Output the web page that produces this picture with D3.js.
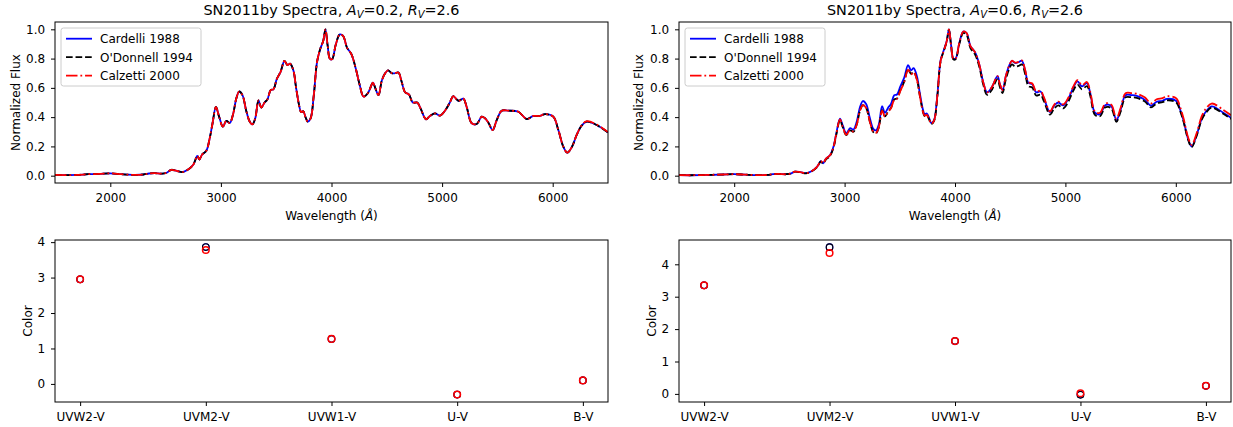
<!DOCTYPE html>
<html>
<head>
<meta charset="utf-8">
<script src="https://cdn.jsdelivr.net/npm/d3@7"></script>
<style>
  html, body { margin: 0; padding: 0; background: #fff; }
  svg { display: block; font-family: "DejaVu Sans", sans-serif; }
</style>
</head>
<body>
<svg id="chart" width="1233" height="427"></svg>
<script>
// ---------------- DATA ----------------
const seriesNames = ["Cardelli 1988", "O'Donnell 1994", "Calzetti 2000"];
const colorBands = ["UVW2-V", "UVM2-V", "UVW1-V", "U-V", "B-V"];
const specTicks = [2000, 3000, 4000, 5000, 6000];
const colorTicks = [0, 1, 2, 3, 4];
const fluxTicks = [0.0, 0.2, 0.4, 0.6, 0.8, 1.0];

// Left spectra (A_V = 0.2)
const tlWave = [1500,1600,1700,1800,1900,2000,2100,2200,2300,2350,
  2400,2470,2510,2550,2600,2650,2700,2750,2787,2805,
  2830,2868,2900,2925,2955,2985,3018,3050,3080,3110,
  3140,3165,3195,3230,3260,3285,3310,3340,3365,3395,
  3420,3450,3475,3505,3540,3575,3602,3625,3655,3680,
  3710,3725,3745,3765,3785,3810,3840,3870,3900,3925,
  3945,3965,3985,4005,4040,4075,4105,4140,4180,4220,
  4255,4290,4330,4375,4395,4425,4455,4485,4512,4545,
  4575,4605,4635,4665,4700,4735,4775,4805,4855,4890,
  4936,4981,5026,5070,5101,5147,5192,5222,5268,5313,
  5358,5388,5420,5457,5494,5539,5599,5690,5765,5825,
  5885,5930,6005,6051,6096,6132,6172,6217,6260,6308,
  6398,6500];
const tlCardelli = [0.005,0.004,0.005,0.01,0.012,0.016,0.01,0.006,0.008,0.015,
  0.017,0.014,0.02,0.04,0.033,0.024,0.04,0.075,0.135,0.11,
  0.145,0.17,0.26,0.36,0.47,0.4,0.335,0.375,0.36,0.42,
  0.53,0.575,0.55,0.44,0.37,0.35,0.39,0.515,0.465,0.5,
  0.52,0.585,0.59,0.66,0.71,0.785,0.755,0.765,0.72,0.6,
  0.47,0.435,0.44,0.4,0.37,0.39,0.55,0.78,0.87,0.92,
  1.0,0.89,0.8,0.795,0.9,0.965,0.955,0.875,0.83,0.73,
  0.62,0.54,0.565,0.635,0.6,0.55,0.65,0.7,0.72,0.7,
  0.7,0.705,0.64,0.57,0.555,0.5,0.5,0.46,0.385,0.408,
  0.426,0.41,0.444,0.5,0.544,0.512,0.526,0.47,0.358,0.353,
  0.403,0.392,0.36,0.312,0.38,0.444,0.444,0.437,0.387,0.408,
  0.408,0.421,0.403,0.312,0.198,0.157,0.194,0.278,0.34,0.369,
  0.346,0.295];
const tlODonnell = [0.005,0.004,0.005,0.01,0.012,0.016,0.01,0.006,0.008,0.015,
  0.017,0.014,0.02,0.04,0.033,0.024,0.04,0.075,0.135,0.11,
  0.145,0.17,0.26,0.36,0.47,0.4,0.335,0.375,0.36,0.42,
  0.53,0.575,0.55,0.44,0.37,0.35,0.39,0.515,0.465,0.5,
  0.52,0.585,0.59,0.66,0.71,0.785,0.755,0.765,0.72,0.6,
  0.47,0.435,0.44,0.4,0.37,0.39,0.55,0.78,0.87,0.92,
  1.0,0.89,0.8,0.795,0.9,0.965,0.955,0.875,0.83,0.73,
  0.62,0.54,0.565,0.635,0.6,0.55,0.65,0.7,0.72,0.7,
  0.7,0.705,0.64,0.57,0.555,0.5,0.5,0.46,0.385,0.408,
  0.426,0.41,0.444,0.5,0.544,0.512,0.526,0.47,0.358,0.353,
  0.403,0.392,0.36,0.312,0.38,0.444,0.444,0.437,0.387,0.408,
  0.408,0.421,0.403,0.312,0.198,0.157,0.194,0.278,0.34,0.369,
  0.346,0.295];
const tlCalzetti = [0.005,0.004,0.005,0.01,0.012,0.016,0.01,0.006,0.008,0.015,
  0.017,0.014,0.02,0.04,0.033,0.024,0.04,0.075,0.135,0.11,
  0.145,0.17,0.26,0.36,0.47,0.4,0.335,0.375,0.36,0.42,
  0.53,0.575,0.55,0.44,0.37,0.35,0.39,0.515,0.465,0.5,
  0.52,0.585,0.59,0.66,0.71,0.785,0.755,0.765,0.72,0.6,
  0.47,0.435,0.44,0.4,0.37,0.39,0.55,0.78,0.87,0.92,
  1.0,0.89,0.8,0.795,0.9,0.965,0.955,0.875,0.83,0.73,
  0.62,0.54,0.565,0.635,0.6,0.55,0.65,0.7,0.72,0.7,
  0.7,0.705,0.64,0.57,0.555,0.5,0.5,0.46,0.385,0.408,
  0.426,0.41,0.444,0.5,0.544,0.512,0.526,0.47,0.358,0.353,
  0.403,0.392,0.36,0.312,0.38,0.444,0.444,0.437,0.387,0.408,
  0.408,0.421,0.403,0.312,0.198,0.157,0.194,0.278,0.342,0.372,
  0.349,0.298];

// Right spectra (A_V = 0.6)
const trWave = [1500,1600,1700,1800,1900,2000,2100,2200,2300,2350,
  2400,2470,2510,2550,2600,2650,2700,2750,2785,2805,
  2830,2868,2900,2925,2958,2985,3015,3050,3080,3110,
  3140,3165,3195,3230,3260,3285,3310,3340,3365,3395,
  3420,3450,3475,3505,3540,3575,3602,3625,3655,3680,
  3710,3725,3745,3765,3785,3810,3840,3870,3900,3925,
  3945,3965,3985,4005,4040,4075,4105,4140,4180,4220,
  4255,4290,4330,4385,4405,4430,4460,4490,4515,4545,
  4575,4605,4635,4665,4700,4735,4775,4805,4860,4900,
  4936,4981,5026,5070,5110,5150,5195,5225,5268,5313,
  5358,5388,5420,5462,5500,5545,5600,5646,5721,5775,
  5827,5880,5920,6005,6040,6068,6114,6144,6190,6235,
  6275,6325,6430,6500];
const trCardelli = [0.004,0.003,0.004,0.006,0.008,0.01,0.007,0.004,0.005,0.01,
  0.012,0.01,0.014,0.028,0.024,0.017,0.03,0.06,0.1,0.085,
  0.115,0.14,0.2,0.29,0.39,0.34,0.29,0.325,0.315,0.37,
  0.47,0.51,0.49,0.39,0.32,0.31,0.35,0.475,0.43,0.465,
  0.49,0.55,0.555,0.61,0.67,0.755,0.72,0.735,0.68,0.57,
  0.45,0.42,0.425,0.395,0.36,0.38,0.55,0.79,0.86,0.92,
  1.0,0.89,0.8,0.8,0.91,0.985,0.975,0.885,0.845,0.76,
  0.64,0.57,0.6,0.68,0.63,0.585,0.68,0.75,0.785,0.77,
  0.775,0.785,0.72,0.635,0.625,0.57,0.575,0.53,0.435,0.48,
  0.5,0.48,0.525,0.6,0.645,0.61,0.632,0.565,0.43,0.42,
  0.48,0.485,0.47,0.38,0.45,0.55,0.55,0.545,0.518,0.478,
  0.505,0.512,0.525,0.51,0.45,0.382,0.245,0.2,0.28,0.39,
  0.44,0.473,0.43,0.395];
const trODonnell = [0.004,0.003,0.004,0.006,0.008,0.01,0.007,0.004,0.005,0.01,
  0.012,0.01,0.014,0.027,0.023,0.016,0.029,0.058,0.097,0.082,
  0.11,0.135,0.192,0.28,0.378,0.328,0.278,0.31,0.3,0.35,
  0.445,0.482,0.463,0.365,0.298,0.29,0.33,0.448,0.405,0.44,
  0.463,0.522,0.528,0.584,0.643,0.728,0.695,0.71,0.658,0.552,
  0.435,0.407,0.413,0.385,0.352,0.373,0.542,0.782,0.855,0.917,
  0.998,0.886,0.795,0.795,0.902,0.975,0.963,0.872,0.83,0.745,
  0.625,0.553,0.582,0.66,0.61,0.565,0.657,0.727,0.76,0.745,
  0.75,0.76,0.697,0.612,0.602,0.548,0.553,0.51,0.417,0.46,
  0.48,0.46,0.505,0.578,0.622,0.59,0.612,0.547,0.415,0.406,
  0.465,0.47,0.456,0.368,0.437,0.535,0.536,0.532,0.506,0.467,
  0.494,0.502,0.515,0.5,0.441,0.375,0.24,0.196,0.275,0.383,
  0.432,0.465,0.423,0.388];
const trCalzetti = [0.004,0.003,0.004,0.006,0.008,0.01,0.007,0.004,0.005,0.01,
  0.012,0.01,0.014,0.028,0.024,0.017,0.03,0.06,0.1,0.085,
  0.115,0.14,0.198,0.287,0.385,0.33,0.28,0.312,0.302,0.35,
  0.445,0.482,0.463,0.365,0.3,0.293,0.332,0.445,0.403,0.437,
  0.46,0.518,0.525,0.58,0.64,0.725,0.692,0.708,0.656,0.552,
  0.437,0.41,0.416,0.388,0.355,0.376,0.545,0.785,0.857,0.918,
  1.0,0.888,0.8,0.8,0.91,0.985,0.975,0.885,0.845,0.76,
  0.64,0.57,0.6,0.68,0.63,0.585,0.68,0.75,0.785,0.772,
  0.778,0.788,0.724,0.64,0.63,0.576,0.58,0.536,0.44,0.486,
  0.506,0.487,0.532,0.607,0.652,0.618,0.64,0.574,0.438,0.43,
  0.49,0.495,0.481,0.39,0.462,0.563,0.564,0.56,0.534,0.494,
  0.522,0.53,0.543,0.528,0.466,0.397,0.256,0.21,0.293,0.407,
  0.46,0.493,0.45,0.413];

// Colors (bottom panels)
const blCardelli = [2.95, 3.86, 1.27, -0.30, 0.10];
const blODonnell = [2.95, 3.86, 1.27, -0.30, 0.10];
const blCalzetti = [2.95, 3.78, 1.27, -0.30, 0.10];
const brCardelli = [3.35, 4.53, 1.63, -0.02, 0.25];
const brODonnell = [3.35, 4.53, 1.63, -0.03, 0.25];
const brCalzetti = [3.35, 4.35, 1.63, 0.02, 0.25];

// ---------------- STYLE / LAYOUT ----------------
const lineColors = ["#0000ff", "#000000", "#ff0000"];
const lineDashes = [null, "6.66,2.88", "11.5,2.88,1.8,2.88"];
const markerStroke = [1.1, 1.1, 1.5];
const FS = 12;

const svg = d3.select("#chart");

function spines(g, x0, x1, y0, y1) {
  g.append("rect").attr("x", x0).attr("y", y0)
    .attr("width", x1 - x0).attr("height", y1 - y0)
    .attr("fill", "none").attr("stroke", "#000").attr("stroke-width", 1);
}

function styleAxis(sel) {
  sel.select(".domain").remove();
  sel.selectAll(".tick line").attr("stroke", "#000").attr("stroke-width", 1);
  sel.selectAll(".tick text").attr("fill", "#000")
    .style("font-family", "DejaVu Sans").style("font-size", FS + "px");
}

function drawSpectrum(cfg) {
  const g = svg.append("g");
  const x = d3.scaleLinear().domain([1500, 6500]).range([cfg.x0, cfg.x1]);
  const y = d3.scaleLinear().domain([-0.05, 1.05]).range([cfg.y1, cfg.y0]);

  const clipId = "clip" + cfg.id;
  svg.append("clipPath").attr("id", clipId).append("rect")
    .attr("x", cfg.x0).attr("y", cfg.y0)
    .attr("width", cfg.x1 - cfg.x0).attr("height", cfg.y1 - cfg.y0);

  const line = d3.line()
    .x((d, i) => x(cfg.wave[i]))
    .y(d => y(d))
    .curve(d3.curveCatmullRom.alpha(0.5));

  const lg = g.append("g").attr("clip-path", `url(#${clipId})`);
  cfg.series.forEach((s, k) => {
    lg.append("path").datum(s)
      .attr("d", line)
      .attr("fill", "none")
      .attr("stroke", lineColors[k])
      .attr("stroke-width", 1.8)
      .attr("stroke-dasharray", lineDashes[k])
      .attr("stroke-linejoin", "round");
  });

  const ax = g.append("g").attr("transform", `translate(0,${cfg.y1})`)
    .call(d3.axisBottom(x).tickValues(specTicks).tickFormat(d3.format("d"))
      .tickSize(4).tickPadding(6.2));
  styleAxis(ax);
  const ay = g.append("g").attr("transform", `translate(${cfg.x0},0)`)
    .call(d3.axisLeft(y).tickValues(fluxTicks).tickFormat(d3.format(".1f"))
      .tickSize(4).tickPadding(5.8));
  styleAxis(ay);

  spines(g, cfg.x0, cfg.x1, cfg.y0, cfg.y1);

  // title
  const cx = (cfg.x0 + cfg.x1) / 2;
  const t = g.append("text").attr("x", cx).attr("y", 15)
    .attr("text-anchor", "middle").style("font-size", "14.4px").attr("fill", "#000");
  t.append("tspan").text("SN2011by Spectra, ");
  t.append("tspan").style("font-style", "italic").text("A");
  t.append("tspan").style("font-style", "italic").style("font-size", "10.1px").attr("dy", 2.6).text("V");
  t.append("tspan").attr("dy", -2.6).text("=" + cfg.av + ", ");
  t.append("tspan").style("font-style", "italic").text("R");
  t.append("tspan").style("font-style", "italic").style("font-size", "10.1px").attr("dy", 2.6).text("V");
  t.append("tspan").attr("dy", -2.6).text("=" + cfg.rv);

  // axis labels
  const xl = g.append("text").attr("x", cx).attr("y", 220)
    .attr("text-anchor", "middle").style("font-size", FS + "px").attr("fill", "#000");
  xl.append("tspan").text("Wavelength (");
  xl.append("tspan").style("font-style", "italic").text("Å");
  xl.append("tspan").text(")");
  g.append("text")
    .attr("transform", `translate(${cfg.ylabX},${(cfg.y0 + cfg.y1) / 2}) rotate(-90)`)
    .attr("text-anchor", "middle").style("font-size", FS + "px").attr("fill", "#000")
    .text("Normalized Flux");

  // legend
  const lx = cfg.x0 + 6, ly = cfg.y0 + 6;
  const leg = g.append("g");
  leg.append("rect").attr("x", lx).attr("y", ly).attr("width", 140).attr("height", 58)
    .attr("rx", 2.5).attr("fill", "#fff").attr("fill-opacity", 0.8)
    .attr("stroke", "#cccccc").attr("stroke-width", 1);
  seriesNames.forEach((name, k) => {
    const ry = ly + 10.7 + k * 18.5;
    leg.append("line").attr("x1", lx + 5).attr("x2", lx + 31)
      .attr("y1", ry).attr("y2", ry)
      .attr("stroke", lineColors[k]).attr("stroke-width", 1.8)
      .attr("stroke-dasharray", lineDashes[k]);
    leg.append("text").attr("x", lx + 39).attr("y", ry + 4.3)
      .style("font-size", FS + "px").attr("fill", "#000").text(name);
  });
}

function drawColors(cfg) {
  const g = svg.append("g");
  const x = d3.scaleLinear().domain([-0.2, colorBands.length - 1 + 0.2]).range([cfg.x0, cfg.x1]);
  const y = d3.scaleLinear().domain(cfg.ydom).range([cfg.y1, cfg.y0]);

  const ax = g.append("g").attr("transform", `translate(0,${cfg.y1})`)
    .call(d3.axisBottom(x).tickValues(d3.range(colorBands.length))
      .tickFormat(i => colorBands[i]).tickSize(4).tickPadding(6.2));
  styleAxis(ax);
  const ay = g.append("g").attr("transform", `translate(${cfg.x0},0)`)
    .call(d3.axisLeft(y).tickValues(colorTicks).tickFormat(d3.format("d"))
      .tickSize(4).tickPadding(5.8));
  styleAxis(ay);

  cfg.series.forEach((s, k) => {
    g.append("g").selectAll("circle").data(s).join("circle")
      .attr("cx", (d, i) => x(i)).attr("cy", d => y(d))
      .attr("r", 3.3).attr("fill", "none")
      .attr("stroke", lineColors[k]).attr("stroke-width", markerStroke[k]);
  });

  spines(g, cfg.x0, cfg.x1, cfg.y0, cfg.y1);

  g.append("text")
    .attr("transform", `translate(${cfg.ylabX},${(cfg.y0 + cfg.y1) / 2}) rotate(-90)`)
    .attr("text-anchor", "middle").style("font-size", FS + "px").attr("fill", "#000")
    .text("Color");
}

drawSpectrum({ id: "tl", x0: 55, x1: 608, y0: 22, y1: 183, ylabX: 19.5,
  wave: tlWave, series: [tlCardelli, tlODonnell, tlCalzetti], av: "0.2", rv: "2.6" });
drawSpectrum({ id: "tr", x0: 679, x1: 1231, y0: 22, y1: 183, ylabX: 643,
  wave: trWave, series: [trCardelli, trODonnell, trCalzetti], av: "0.6", rv: "2.6" });
drawColors({ x0: 55, x1: 608, y0: 240, y1: 402, ylabX: 31.5, ydom: [-0.51, 4.06],
  series: [blCardelli, blODonnell, blCalzetti] });
drawColors({ x0: 679, x1: 1231, y0: 240, y1: 402, ylabX: 655.5, ydom: [-0.25, 4.75],
  series: [brCardelli, brODonnell, brCalzetti] });
</script>
</body>
</html>
